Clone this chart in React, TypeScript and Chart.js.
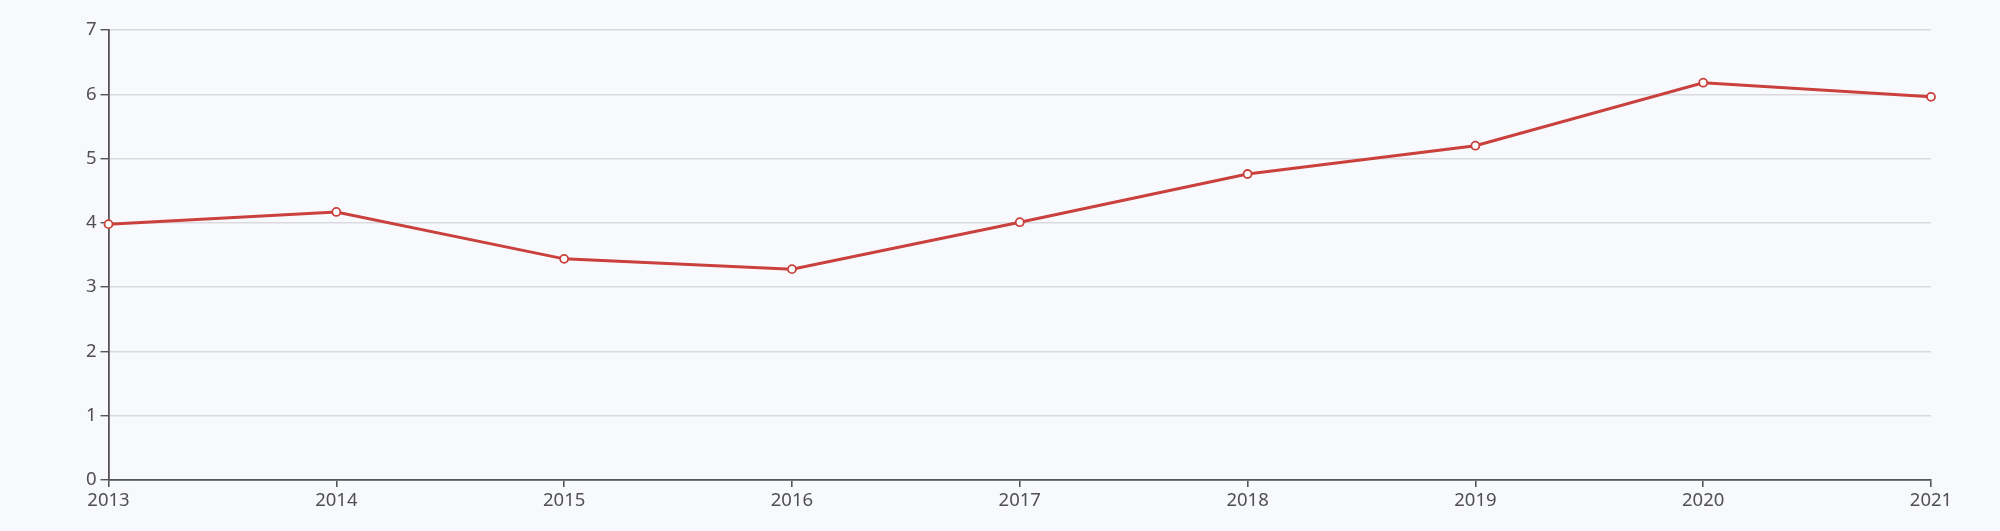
import React, { useEffect, useRef } from "react";
import { Chart, registerables } from "chart.js";

Chart.register(...registerables);

const years = ["2013", "2014", "2015", "2016", "2017", "2018", "2019", "2020", "2021"];
const values = [3.98, 4.17, 3.44, 3.28, 4.01, 4.76, 5.2, 6.18, 5.96];
const yMin = 0;
const yMax = 7;

const BG = "#f8f9fd";
const AXIS = "#555555";
const TEXT = "#505050";
const GRID = "#d9dadf";
const LINE = "#c9403c";
const FONT = "'Noto Sans', 'Open Sans', sans-serif";

export default function App() {
  const ref = useRef<HTMLCanvasElement | null>(null);

  useEffect(() => {
    document.body.style.margin = "0";
    document.body.style.background = BG;
    const canvas = ref.current;
    if (!canvas) return;
    const chart = new Chart(canvas, {
      type: "line",
      data: {
        labels: years,
        datasets: [
          {
            data: values,
            borderColor: LINE,
            borderWidth: 3,
            pointRadius: 4,
            pointBorderWidth: 1.8,
            pointBackgroundColor: "#ffffff",
            pointBorderColor: LINE,
            tension: 0,
            fill: false,
          },
        ],
      },
      options: {
        responsive: false,
        animation: false,
        devicePixelRatio: 1,
        layout: { padding: { top: 30, right: 69, left: 0, bottom: 0 } },
        plugins: { legend: { display: false }, tooltip: { enabled: false } },
        scales: {
          x: {
            offset: false,
            grid: {
              drawOnChartArea: false,
              drawTicks: true,
              tickLength: 7,
              color: AXIS,
              tickColor: AXIS,
              lineWidth: 1.6,
            },
            border: { display: true, color: AXIS, width: 1.8 },
            ticks: {
              color: TEXT,
              padding: 3,
              maxRotation: 0,
              autoSkip: false,
              font: { family: FONT, size: 18.5 },
            },
            afterFit: (s: any) => {
              s.height = 51;
            },
          },
          y: {
            min: yMin,
            max: yMax,
            ticks: {
              stepSize: 1,
              color: TEXT,
              padding: 4,
              font: { family: FONT, size: 18.5 },
            },
            grid: {
              drawOnChartArea: true,
              drawTicks: true,
              tickLength: 8,
              color: GRID,
              tickColor: AXIS,
              lineWidth: 1.4,
            },
            border: { display: true, color: AXIS, width: 1.8 },
            afterFit: (s: any) => {
              s.width = 108.5;
            },
          },
        },
      },
    });
    return () => chart.destroy();
  }, []);

  return (
    <div style={{ position: "absolute", left: 0, top: 0, width: 2000, height: 531, background: BG }}>
      <canvas ref={ref} width={2000} height={531} style={{ width: 2000, height: 531, display: "block" }} />
    </div>
  );
}
